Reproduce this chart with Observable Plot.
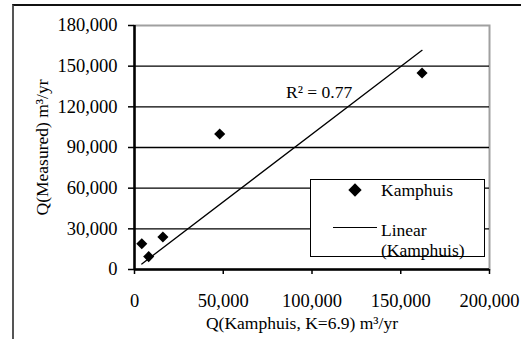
<!DOCTYPE html>
<html>
<head>
<meta charset="utf-8">
<script src="https://cdn.jsdelivr.net/npm/d3@7"></script>
<script src="https://cdn.jsdelivr.net/npm/@observablehq/plot@0.6"></script>
<style>
  html, body { margin: 0; padding: 0; background: #fff; }
  #wrap { position: relative; width: 521px; height: 339px; overflow: hidden;
          font-family: "Liberation Serif", "Times New Roman", serif; }
  #border { position: absolute; left: 12px; top: 4px; right: -10px; bottom: -10px;
            border-top: 2px solid #111; border-left: 2px solid #555; }
  #chart { position: absolute; left: 0; top: 0; }
  #legend { position: absolute; left: 310px; top: 179px; width: 173px; height: 76px;
            border: 1.5px solid #000; background: #fff; }
  #legend svg { display: block; overflow: visible; }
</style>
</head>
<body>
<div id="wrap">
  <div id="border"></div>
  <div id="chart"></div>
  <div id="legend"></div>
</div>
<script>
// Annual transport: Kamphuis estimate (x) vs measured (y), m³/yr
const kamphuisQ = [4100, 8000, 16000, 48000, 162000];
const measuredQ = [19000, 9500, 24000, 100000, 145000];
const xTicks = [0, 50000, 100000, 150000, 200000];
const yTicks = [0, 30000, 60000, 90000, 120000, 150000, 180000];
const seriesName = "Kamphuis";
const fitName = "Linear (Kamphuis)";
const xTitle = "Q(Kamphuis, K=6.9) m³/yr";
const yTitle = "Q(Measured) m³/yr";

const rows = kamphuisQ.map((x, i) => ({x, y: measuredQ[i]}));

// Linear trend with the intercept fixed at zero
const slope = d3.sum(rows, d => d.x * d.y) / d3.sum(rows, d => d.x * d.x);
const xMin = d3.min(kamphuisQ), xMax = d3.max(kamphuisQ);
const fit = [{x: xMin, y: slope * xMin}, {x: xMax, y: slope * xMax}];
const meanY = d3.mean(measuredQ);
const r2 = 1 - d3.sum(rows, d => (d.y - slope * d.x) ** 2) / d3.sum(rows, d => (d.y - meanY) ** 2);

const font = '"Liberation Serif", "Times New Roman", serif';
const fmt = d3.format(",");

const chart = Plot.plot({
  width: 521,
  height: 339,
  marginLeft: 134,
  marginRight: 32,
  marginTop: 25,
  marginBottom: 70,
  style: {fontFamily: font, fontSize: "18px", color: "#000", background: "transparent", overflow: "visible"},
  x: {domain: [0, 200000]},
  y: {domain: [0, 180000]},
  marks: [
    Plot.frame({stroke: "#a0a0a0", strokeWidth: 2}),
    Plot.ruleY(yTicks.filter(v => v > 0 && v < 180000), {stroke: "#000", strokeWidth: 1.3}),
    Plot.axisY({ticks: yTicks, tickFormat: fmt, tickSize: 6, tickPadding: 11, label: null,
                stroke: "#000", strokeWidth: 1.5, fill: "#000", fontSize: 18.5}),
    Plot.axisX({ticks: xTicks, tickFormat: fmt, tickSize: 5, tickPadding: 19, label: null,
                stroke: "#000", strokeWidth: 1.5, fill: "#000", fontSize: 18.5}),
    Plot.ruleX([0], {stroke: "#000", strokeWidth: 2.5}),
    Plot.ruleY([0], {stroke: "#000", strokeWidth: 2.5}),
    Plot.line(fit, {x: "x", y: "y", stroke: "#000", strokeWidth: 1.3}),
    Plot.dot(rows, {x: "x", y: "y", symbol: "diamond2", r: 5, fill: "#000", stroke: null}),
    Plot.text([{x: 104000, y: 130800, label: `R² = ${r2.toFixed(2)}`}],
              {x: "x", y: "y", text: "label", fontSize: 17.5, fill: "#000", textAnchor: "middle", lineAnchor: "middle"}),
    Plot.text([yTitle], {frameAnchor: "left", textAnchor: "middle", lineAnchor: "middle",
                         rotate: -90, dx: -92, fontSize: 17.5, fill: "#000"}),
    Plot.text([xTitle], {frameAnchor: "bottom", textAnchor: "middle", lineAnchor: "middle",
                         dx: -10, dy: 54, fontSize: 17.5, fill: "#000"})
  ]
});
document.getElementById("chart").appendChild(chart);

// Legend: marker and trend line sample
const leg = d3.select("#legend").append("svg").attr("width", 173).attr("height", 76)
  .style("font-family", font).style("font-size", "17.5px");
leg.append("path").attr("d", d3.symbol(d3.symbolDiamond2, Math.PI * 36)())
  .attr("transform", "translate(44,10)").attr("fill", "#000");
leg.append("text").attr("x", 70).attr("y", 16).text(seriesName);
leg.append("line").attr("x1", 22).attr("x2", 66).attr("y1", 47.5).attr("y2", 47.5)
  .attr("stroke", "#000").attr("stroke-width", 1.2);
const fitParts = fitName.split(" ");
leg.append("text").attr("x", 70).attr("y", 55.5).text(fitParts[0]);
leg.append("text").attr("x", 70).attr("y", 75.5).text(fitParts.slice(1).join(" "));
</script>
</body>
</html>
